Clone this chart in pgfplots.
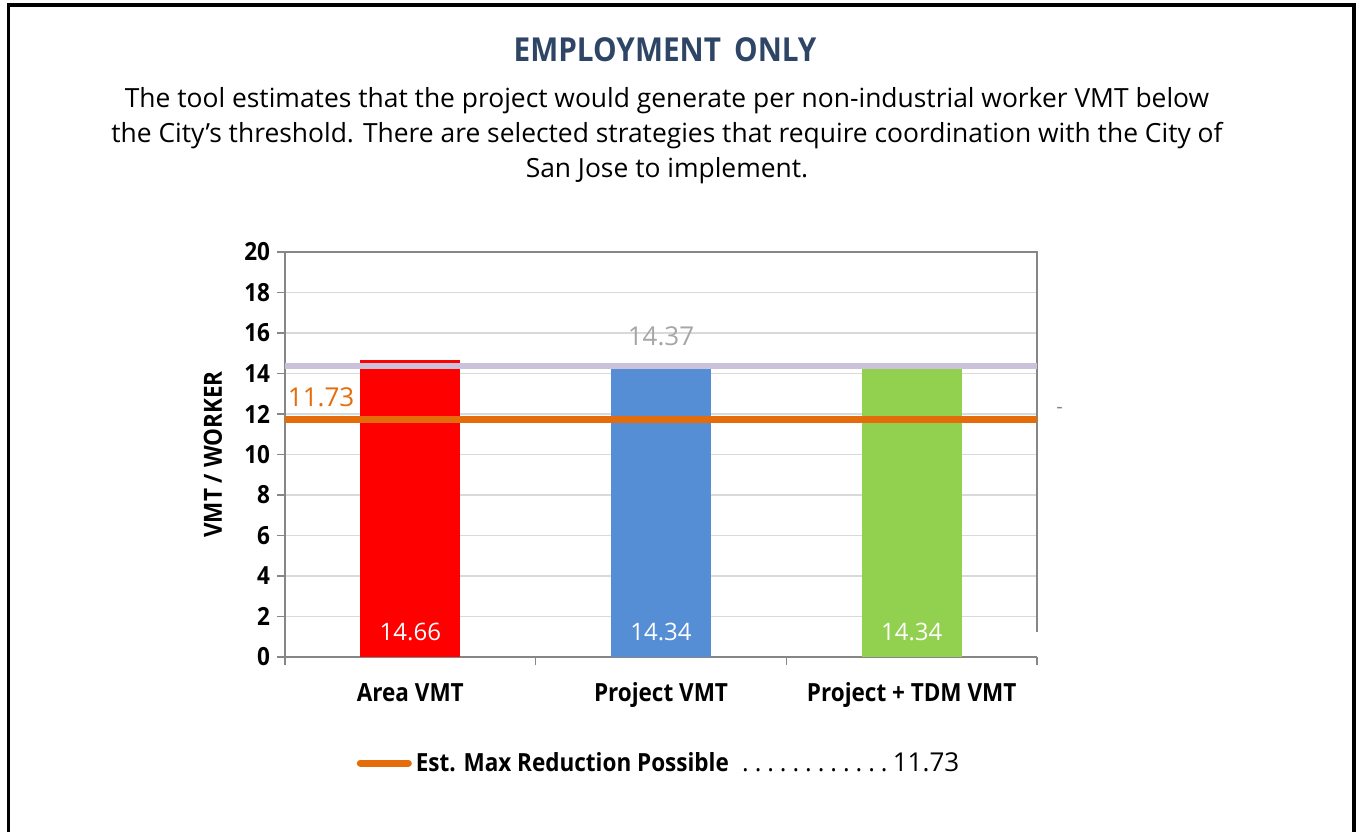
\documentclass[border=0pt]{standalone}
\usepackage{fontspec}
\setmainfont{Open Sans}[BoldFeatures={FakeStretch=0.9}]
\usepackage{pgfplots}
\pgfplotsset{compat=1.18}

\definecolor{lav}{HTML}{CCC1DA}
\definecolor{orng}{HTML}{E46C0A}
\definecolor{barred}{HTML}{FF0000}
\definecolor{barblue}{HTML}{558ED5}
\definecolor{bargreen}{HTML}{92D050}
\definecolor{axgray}{HTML}{868686}
\definecolor{gridgray}{HTML}{D9D9D9}
\definecolor{lblgray}{HTML}{A6A6A6}
\definecolor{titleblue}{HTML}{2E4566}

\newcommand{\fs}[1]{\fontsize{#1}{1.2\dimexpr#1\relax}\selectfont}

\begin{document}
\begin{tikzpicture}
% page frame and text, in pixel units of the reference (y downwards)
\begin{scope}[shift={(-142.5bp,328.5bp)}, x=0.5bp, y=-0.5bp]
  \path[use as bounding box] (0,0) rectangle (1359,832);
  \draw[line width=1.6bp, black] (8.5,832) -- (8.5,5) -- (1354,5) -- (1354,832);
  \node[font=\fs{16.5bp}\bfseries, text=titleblue] at (665,50) {EMPLOYMENT\, ONLY};
  \node[font=\fontsize{13.2bp}{17.5bp}\selectfont, align=center] at (667,136)
    {The tool estimates that the project would generate per non-industrial worker VMT below\\
     the City's threshold. There are selected strategies that require coordination with the City of\\
     San Jose to implement.};
\end{scope}

\begin{axis}[
  scale only axis,
  width=376bp, height=202.5bp,
  xmin=-0.5, xmax=2.5, ymin=0, ymax=20,
  ybar, bar width=50bp,
  axis x line*=bottom, axis y line*=left,
  axis line style={axgray, line width=0.8bp, -},
  tick align=outside,
  tick style={axgray, line width=0.8bp},
  major tick length=4bp,
  ytick={0,2,...,20},
  ymajorgrids, grid style={gridgray, line width=0.8bp},
  xtick={-0.5,0.5,1.5,2.5}, xticklabels={},
  extra x ticks={0,1,2},
  extra x tick labels={Area VMT, Project VMT, Project + TDM VMT},
  extra x tick style={major tick length=0pt, grid=none},
  xticklabel style={font=\fs{12.5bp}\bfseries, text height=1.1em, text depth=0.3em, yshift=-8bp},
  yticklabel style={font=\fs{12.5bp}\bfseries},
  /pgf/number format/assume math mode=true,
  ylabel={VMT / WORKER},
  every axis y label/.style={at={(axis description cs:-0.0957,0.5)}, rotate=90, anchor=center, font=\fs{12.5bp}\bfseries},
  clip=false,
  legend style={at={(axis description cs:0.4987,-0.262)}, anchor=center, draw=none, fill=none,
    font=\fs{12.5bp}, inner sep=0pt},
  legend image code/.code={\draw[#1, line width=3.5bp, line cap=round] (0bp,0bp) -- (24bp,0bp);},
]
  \addplot[fill=barred, draw=none, bar shift=0pt, forget plot] coordinates {(0,14.66)};
  \addplot[fill=barblue, draw=none, bar shift=0pt, forget plot] coordinates {(1,14.34)};
  \addplot[fill=bargreen, draw=none, bar shift=0pt, forget plot] coordinates {(2,14.34)};
  % top and right frame of the plot area
  \draw[axgray, line width=0.8bp] (axis cs:-0.5,20) -- (axis cs:2.5,20) -- (axis cs:2.5,1.23);
  \addplot[sharp plot, lav, line width=3.4bp, forget plot] coordinates {(-0.5,14.37) (2.5,14.37)};
  \addplot[sharp plot, orng, line width=3.2bp] coordinates {(-0.5,11.73) (2.5,11.73)};
  \addlegendentry{\textbf{Est. Max Reduction Possible}\hspace{5bp}\xleaders\hbox to 6bp{\hss.\hss}\hskip 76bp\hspace{1bp}{\fs{13bp}11.73}}
  % data labels
  \node[text=white, font=\fs{12bp}] at (axis cs:0,1.23) {14.66};
  \node[text=white, font=\fs{12bp}] at (axis cs:1,1.23) {14.34};
  \node[text=white, font=\fs{12bp}] at (axis cs:2,1.23) {14.34};
  \node[text=lblgray, font=\fs{13bp}] at (axis cs:1,15.85) {14.37};
  \node[text=orng, font=\fs{13bp}, anchor=west, inner sep=0pt] at (axis cs:-0.49,12.84) {11.73};
  \node[text=axgray, font=\fs{10bp}] at (axis cs:2.59,12.2) {-};
\end{axis}
\end{tikzpicture}
\end{document}
